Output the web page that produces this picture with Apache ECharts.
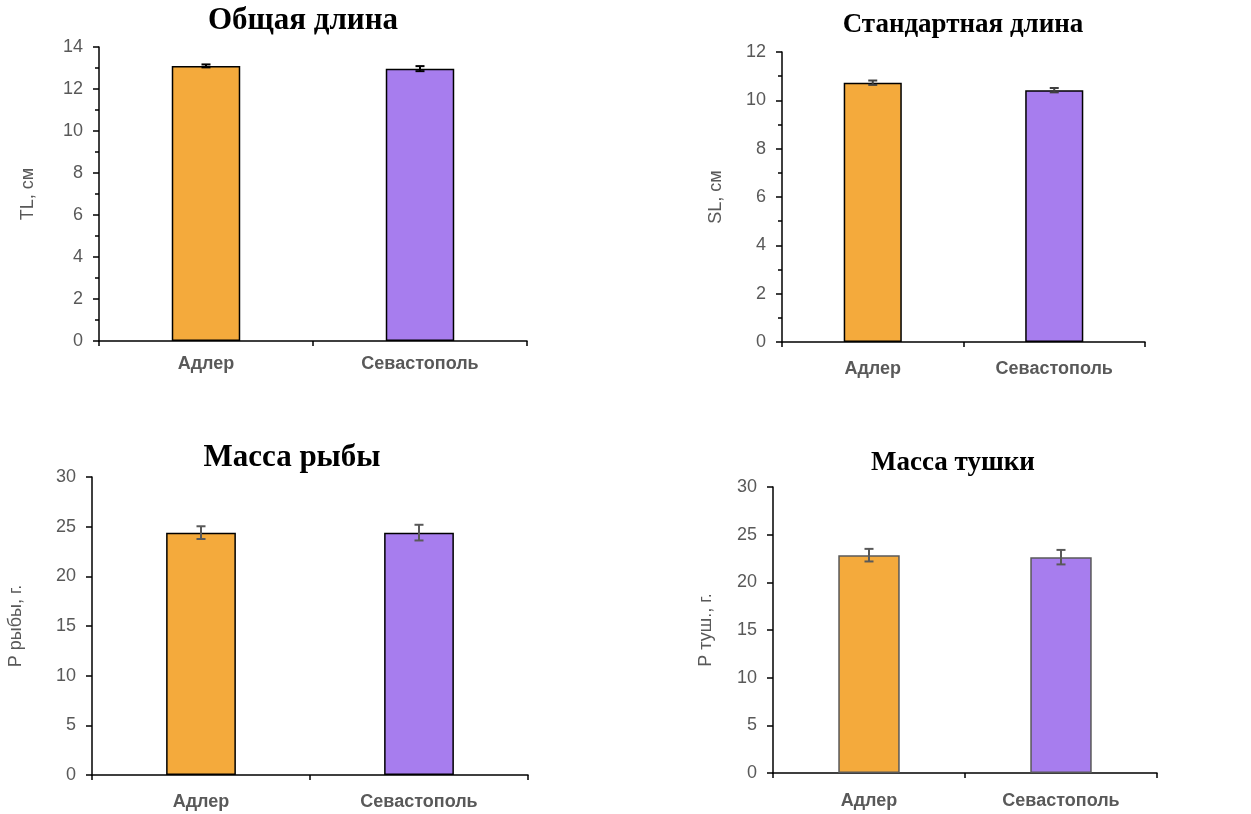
<!DOCTYPE html>
<html>
<head>
<meta charset="utf-8">
<script src="https://cdn.jsdelivr.net/npm/echarts@6/dist/echarts.min.js"></script>
<style>
html,body{margin:0;padding:0;background:#fff;}
#c{width:1251px;height:814px;}
</style>
</head>
<body>
<div id="c"></div>
<script>
const categories = ['Адлер', 'Севастополь'];
const barColors = ['#F4AA3C', '#A77DEE'];
const titles = ['Общая длина', 'Стандартная длина', 'Масса рыбы', 'Масса тушки'];
const yNames = ['TL, см', 'SL, см', 'Р рыбы, г.', 'Р туш., г.'];
const tlValues = [13.1, 12.97];
const tlErr = [0.07, 0.12];
const slValues = [10.73, 10.42];
const slErr = [0.09, 0.09];
const massValues = [24.4, 24.4];
const massErr = [0.64, 0.79];
const carcassValues = [22.85, 22.64];
const carcassErr = [0.66, 0.76];
const yMax = [14, 12, 30, 30];
const yStep = [2, 2, 5, 5];

const panels = [
  {vals: tlValues, err: tlErr, grid: {left: 99, top: 47, width: 428, height: 294}, title: [303, 21], tsize: 31, gap: 62, minor: true, border: '#000', errColor: '#000', labelMargin: 14},
  {vals: slValues, err: slErr, grid: {left: 782, top: 52, width: 363, height: 290}, title: [963, 25], tsize: 27, gap: 57, minor: true, border: '#000', errColor: '#404040', labelMargin: 18},
  {vals: massValues, err: massErr, grid: {left: 92, top: 477, width: 436, height: 298}, title: [292, 458], tsize: 31, gap: 67, minor: false, border: '#000', errColor: '#595959', labelMargin: 18},
  {vals: carcassValues, err: carcassErr, grid: {left: 773, top: 487, width: 384, height: 286}, title: [953, 463], tsize: 27, gap: 58, minor: false, border: '#595959', errColor: '#595959', labelMargin: 19}
];

const grids = [], xAxes = [], yAxes = [], series = [], graphics = [];
panels.forEach((p, i) => {
  grids.push(Object.assign({containLabel: false}, p.grid));
  xAxes.push({
    type: 'category', gridIndex: i, data: categories,
    axisLine: {lineStyle: {color: '#000', width: 1.5}},
    axisTick: {show: true, length: 5, lineStyle: {color: '#000', width: 1.5}},
    axisLabel: {color: '#595959', fontSize: 18, fontWeight: 'bold', fontFamily: 'Liberation Sans', margin: p.labelMargin}
  });
  yAxes.push({
    type: 'value', gridIndex: i, min: 0, max: yMax[i], interval: yStep[i],
    name: yNames[i], nameLocation: 'middle', nameGap: p.gap, nameRotate: 90,
    nameTextStyle: {color: '#595959', fontSize: 18, fontFamily: 'Liberation Sans'},
    axisLine: {show: true, lineStyle: {color: '#000', width: 1.5}},
    axisTick: {show: true, length: 6, lineStyle: {color: '#000', width: 1.5}},
    minorTick: {show: p.minor, splitNumber: 2, length: 4, lineStyle: {color: '#000', width: 1.5}},
    splitLine: {show: false},
    axisLabel: {color: '#595959', fontSize: 18, fontFamily: 'Liberation Sans', margin: 16}
  });
  series.push({
    type: 'bar', xAxisIndex: i, yAxisIndex: i, barWidth: '32%',
    data: p.vals.map((v, k) => ({value: v, itemStyle: {color: barColors[k]}})),
    itemStyle: {borderColor: p.border, borderWidth: 1.5},
    silent: true, z: 2
  });
  series.push({
    type: 'custom', xAxisIndex: i, yAxisIndex: i, z: 5, silent: true,
    data: p.vals.map((v, k) => [k, v, p.err[k]]),
    encode: {x: 0, y: 1},
    renderItem: function (params, api) {
      const x = api.value(0), v = api.value(1), e = api.value(2);
      const hi = api.coord([x, v + e]);
      const lo = api.coord([x, v - e]);
      const hw = 4.5;
      const st = {stroke: p.errColor, lineWidth: 2};
      return {type: 'group', children: [
        {type: 'line', shape: {x1: hi[0], y1: hi[1], x2: lo[0], y2: lo[1]}, style: st},
        {type: 'line', shape: {x1: hi[0] - hw, y1: hi[1], x2: hi[0] + hw, y2: hi[1]}, style: st},
        {type: 'line', shape: {x1: lo[0] - hw, y1: lo[1], x2: lo[0] + hw, y2: lo[1]}, style: st}
      ]};
    }
  });
  graphics.push({
    type: 'text', x: p.title[0], y: p.title[1],
    style: {text: titles[i], fill: '#000', font: 'bold ' + p.tsize + 'px "Liberation Serif"', textAlign: 'center', textVerticalAlign: 'middle'}
  });
});

const chart = echarts.init(document.getElementById('c'), null, {renderer: 'canvas'});
chart.setOption({
  animation: false,
  backgroundColor: '#fff',
  grid: grids, xAxis: xAxes, yAxis: yAxes, series: series, graphic: graphics
});
</script>
</body>
</html>
